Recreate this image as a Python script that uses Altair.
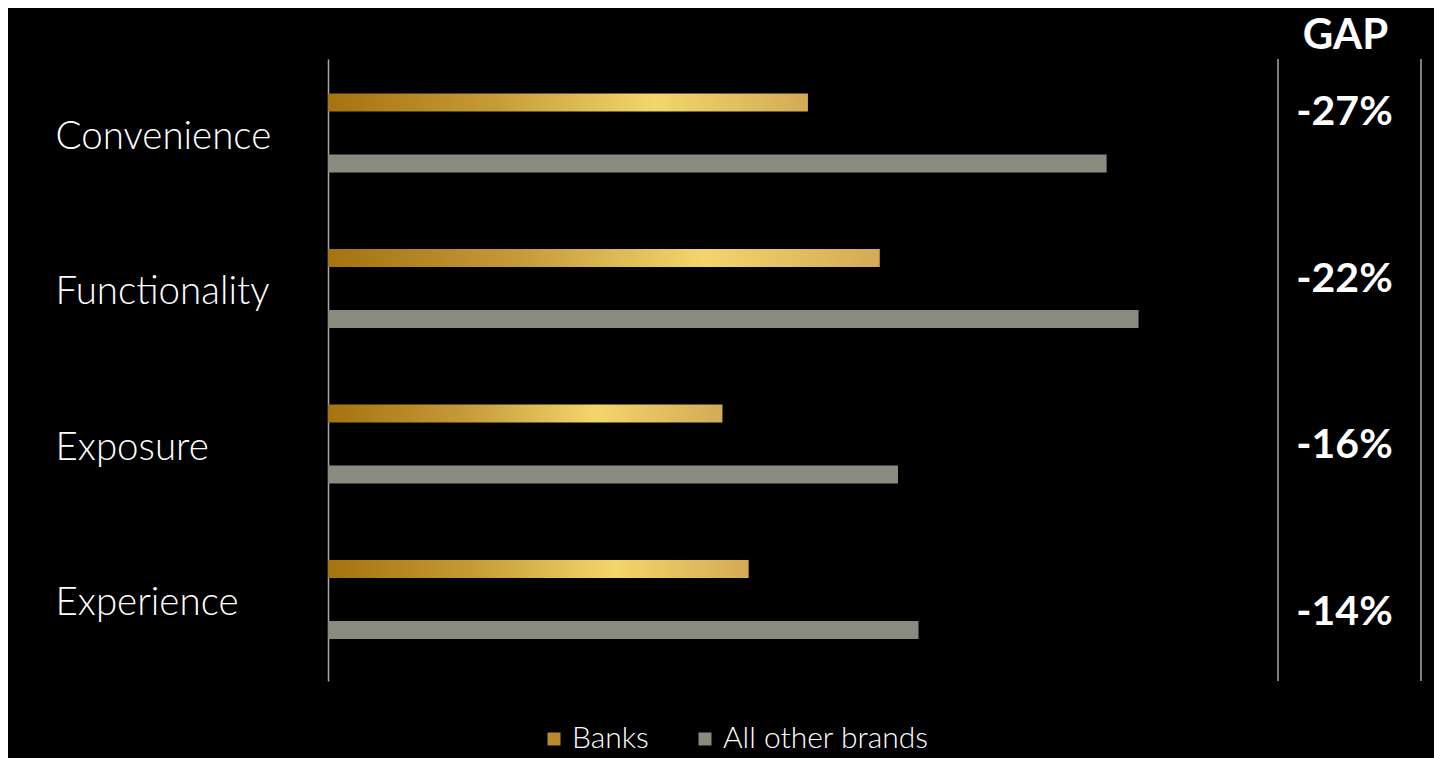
import altair as alt
import pandas as pd

categories = ["Convenience", "Functionality", "Exposure", "Experience"]
banks = [42.1, 48.4, 34.6, 36.9]
others = [68.3, 71.1, 50.0, 51.8]
gaps = ["-27%", "-22%", "-16%", "-14%"]
series_names = ["Banks", "All other brands"]

rows = []
for c, b, o in zip(categories, banks, others):
    rows.append({"category": c, "series": "Banks", "value": b})
    rows.append({"category": c, "series": "All other brands", "value": o})
df = pd.DataFrame(rows)
gap_df = pd.DataFrame({"category": categories, "gap": gaps})
one = pd.DataFrame({"k": [0]})

FONT = "Lato"
LINE = "#A8A8A8"

gold = alt.Gradient(
    gradient="linear",
    stops=[
        alt.GradientStop(color="#A5730F", offset=0),
        alt.GradientStop(color="#C59B38", offset=0.35),
        alt.GradientStop(color="#F3D66B", offset=0.68),
        alt.GradientStop(color="#D4AA55", offset=1),
    ],
    x1=0, x2=1, y1=0, y2=0,
)

y_enc = alt.Y(
    "category:N", sort=categories,
    scale=alt.Scale(domain=categories, paddingInner=0, paddingOuter=0),
    axis=alt.Axis(title=None, ticks=False, tickSize=0, labelPadding=273,
                  labelAlign="left", labelFontSize=38.5, labelFont=FONT,
                  labelFontWeight=300, labelColor="white", domainColor=LINE,
                  domainWidth=1.5, labelLimit=400),
)
yoff = alt.YOffset(
    "series:N", sort=series_names,
    scale=alt.Scale(domain=series_names, paddingInner=0.705, paddingOuter=0.627, align=0.451),
)
x_enc = alt.X("value:Q", scale=alt.Scale(domain=[0, 80]), axis=None)

base = alt.Chart(df)
gold_bars = base.transform_filter(alt.datum.series == "Banks").mark_bar(color=gold).encode(
    x=x_enc, y=y_enc, yOffset=yoff)
gray_bars = base.transform_filter(alt.datum.series == "All other brands").mark_bar().encode(
    x=x_enc, y=y_enc, yOffset=yoff,
    color=alt.Color("series:N",
                    scale=alt.Scale(domain=series_names, range=["#B78A2E", "#898B7E"]),
                    legend=alt.Legend(orient="none", legendX=211, legendY=665,
                                      direction="horizontal", title=None,
                                      symbolType="square", symbolSize=169,
                                      symbolStrokeWidth=0, symbolOpacity=1,
                                      labelFontSize=30, labelFont=FONT,
                                      labelFontWeight=300, labelColor="white",
                                      labelLimit=400,
                                      columnPadding=41, labelOffset=3, padding=0)))
left = alt.layer(gold_bars, gray_bars).properties(width=912, height=622)

gap_text = alt.Chart(gap_df).mark_text(
    font=FONT, fontWeight="bold", fontSize=41, color="white",
    baseline="middle", align="center", dx=-5, dy=4).encode(
    y=alt.Y("category:N", sort=categories,
            scale=alt.Scale(type="point", domain=categories, padding=0.366, align=0.41),
            axis=None),
    text="gap:N")
rule_l = alt.Chart(one).mark_rule(color=LINE, strokeWidth=1.5).encode(
    x=alt.value(0), y=alt.value(0), y2=alt.value(622))
rule_r = alt.Chart(one).mark_rule(color=LINE, strokeWidth=1.5).encode(
    x=alt.value(143), y=alt.value(0), y2=alt.value(622))
right = alt.layer(rule_l, rule_r, gap_text).properties(
    width=143, height=622,
    title=alt.TitleParams("GAP", fontSize=42, font=FONT, fontWeight="bold",
                          color="white", anchor="middle", offset=0, dx=-4))

chart = alt.hconcat(left, right, spacing=37).resolve_legend(color="independent").properties(
    padding={"left": 47, "top": 7, "right": 12, "bottom": 5}
).configure(background="black").configure_view(stroke=None)

chart.save("out.html", embed_options={"renderer": "svg", "actions": False})
